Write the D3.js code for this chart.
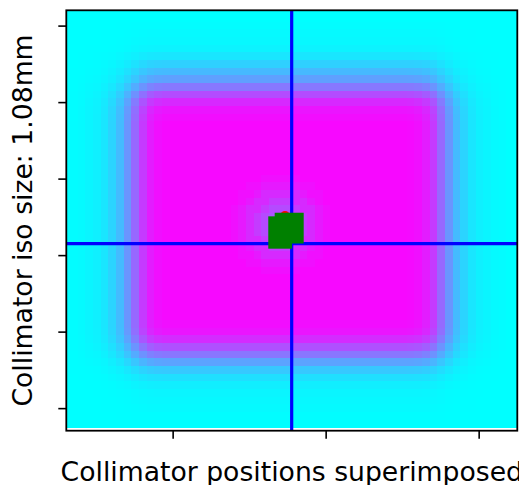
<!DOCTYPE html>
<html>
<head>
<meta charset="utf-8">
<script src="https://cdn.jsdelivr.net/npm/d3@7"></script>
<style>
  body { margin: 0; background: #fff; }
  text { font-family: "DejaVu Sans", sans-serif; }
</style>
</head>
<body>
<div id="container"></div>
<script>
// field profile across the columns (0 = cyan, 1 = magenta)
var xProfile = [0.00, 0.01, 0.02, 0.04, 0.06, 0.10, 0.17, 0.27, 0.42, 0.60, 0.78, 0.90, 0.95, 0.97,
  0.98, 0.98, 0.98, 0.98, 0.98, 0.98, 0.98, 0.98, 0.98, 0.98, 0.98, 0.98, 0.98, 0.98, 0.98, 0.98,
  0.98, 0.98, 0.98, 0.98, 0.98, 0.98, 0.98, 0.98, 0.98, 0.98, 0.98, 0.98, 0.98, 0.98, 0.98,
  0.97, 0.95, 0.90, 0.78, 0.60, 0.42, 0.27, 0.17, 0.10, 0.06, 0.04, 0.02, 0.01, 0.00, 0.00];
// field profile across the rows
var yProfile = [0.00, 0.00, 0.01, 0.02, 0.03, 0.05, 0.10, 0.19, 0.28, 0.38, 0.54, 0.72, 0.86, 0.94, 0.97,
  0.99, 0.99, 0.99, 0.99, 0.99, 0.99, 0.99, 0.99, 0.99, 0.99, 0.99, 0.99, 0.99, 0.99, 0.99,
  0.99, 0.99, 0.99, 0.99, 0.99, 0.99, 0.99, 0.99, 0.99, 0.99, 0.99,
  0.97, 0.94, 0.85, 0.70, 0.55, 0.37, 0.22, 0.13, 0.07, 0.04, 0.03, 0.02, 0.01, 0.00];
// dip of the ball shadow by distance (in pixels) from its centre
var haloDip = [0.32, 0.30, 0.26, 0.20, 0.13, 0.07, 0.03];
var haloCenter = [28, 28];

var xTicks = [13.9, 33.9, 53.9];
var yTicks = [2, 12, 22, 32, 42, 52];

var crossX = 29.46, crossY = 30.51;
var greenBoxes = [[26.4, 29.5, 26.93, 31.16], [27.24, 31.03, 26.46, 30.48]];
var redDot = [28.59, 26.89];

var xLabel = "Collimator positions superimposed";
var yLabel = "Collimator iso size: 1.08mm";

var width = 519, height = 485;
var plotL = 66.3, plotR = 517.3, plotT = 10.3, plotB = 430.7;

var svg = d3.select("#container").append("svg")
  .attr("width", width).attr("height", height);

var x = d3.scaleLinear().domain([0, 58.95]).range([plotL, plotR]);
var y = d3.scaleLinear().domain([0, 54.95]).range([plotT, plotB]);
var color = d3.scaleSequential(d3.interpolateRgb("#00ffff", "#ff00ff")).domain([0, 1]);

svg.append("clipPath").attr("id", "plotclip").append("rect")
  .attr("x", plotL).attr("y", plotT).attr("width", plotR - plotL).attr("height", plotB - plotT);

var plot = svg.append("g").attr("clip-path", "url(#plotclip)");

// build the cells
var cells = [];
yProfile.forEach(function(py, j){
  xProfile.forEach(function(px, i){
    var d = Math.round(Math.hypot(i - haloCenter[0], j - haloCenter[1]));
    var dip = d < haloDip.length ? haloDip[d] : 0;
    cells.push({i: i, j: j, v: Math.max(0, Math.min(1, px * py - dip))});
  });
});

plot.selectAll("rect.cell").data(cells).enter().append("rect")
  .attr("class", "cell")
  .attr("x", function(d){ return x(d.i - 0.5); })
  .attr("y", function(d){ return y(d.j - 0.5); })
  .attr("width", x(1) - x(0) + 0.5)
  .attr("height", y(1) - y(0) + 0.5)
  .attr("shape-rendering", "crispEdges")
  .attr("fill", function(d){ return color(d.v); });

// cross hair
plot.append("line")
  .attr("x1", x(crossX)).attr("x2", x(crossX))
  .attr("y1", plotT).attr("y2", plotB)
  .attr("stroke", "#0000ff").attr("stroke-width", 3.2);
plot.append("line")
  .attr("x1", plotL).attr("x2", plotR)
  .attr("y1", y(crossY)).attr("y2", y(crossY))
  .attr("stroke", "#0000ff").attr("stroke-width", 3.2);

plot.append("circle")
  .attr("cx", x(redDot[0])).attr("cy", y(redDot[1])).attr("r", 5)
  .attr("fill", "#ff0000");

plot.selectAll("rect.box").data(greenBoxes).enter().append("rect")
  .attr("class", "box")
  .attr("x", function(d){ return x(d[0]); })
  .attr("y", function(d){ return y(d[2]); })
  .attr("width", function(d){ return x(d[1]) - x(d[0]); })
  .attr("height", function(d){ return y(d[3]) - y(d[2]); })
  .attr("fill", "#008000");

// axes, no tick labels
var gx = svg.append("g").attr("transform", "translate(0," + plotB + ")")
  .call(d3.axisBottom(x).tickValues(xTicks).tickSize(8).tickFormat(""));
var gy = svg.append("g").attr("transform", "translate(" + plotL + ",0)")
  .call(d3.axisLeft(y).tickValues(yTicks).tickSize(8).tickFormat(""));
[gx, gy].forEach(function(g){
  g.select(".domain").remove();
  g.selectAll(".tick line").attr("stroke", "#000").attr("stroke-width", 1.6);
});

svg.append("rect")
  .attr("x", plotL).attr("y", plotT).attr("width", plotR - plotL).attr("height", plotB - plotT)
  .attr("fill", "none").attr("stroke", "#000").attr("stroke-width", 1.8);

svg.append("text")
  .attr("x", (plotL + plotR) / 2).attr("y", 481)
  .attr("text-anchor", "middle")
  .style("font-size", "26.67px")
  .text(xLabel);

svg.append("text")
  .attr("transform", "translate(32," + (plotT + plotB) / 2 + ") rotate(-90)")
  .attr("text-anchor", "middle")
  .style("font-size", "26.67px")
  .text(yLabel);
</script>
</body>
</html>
